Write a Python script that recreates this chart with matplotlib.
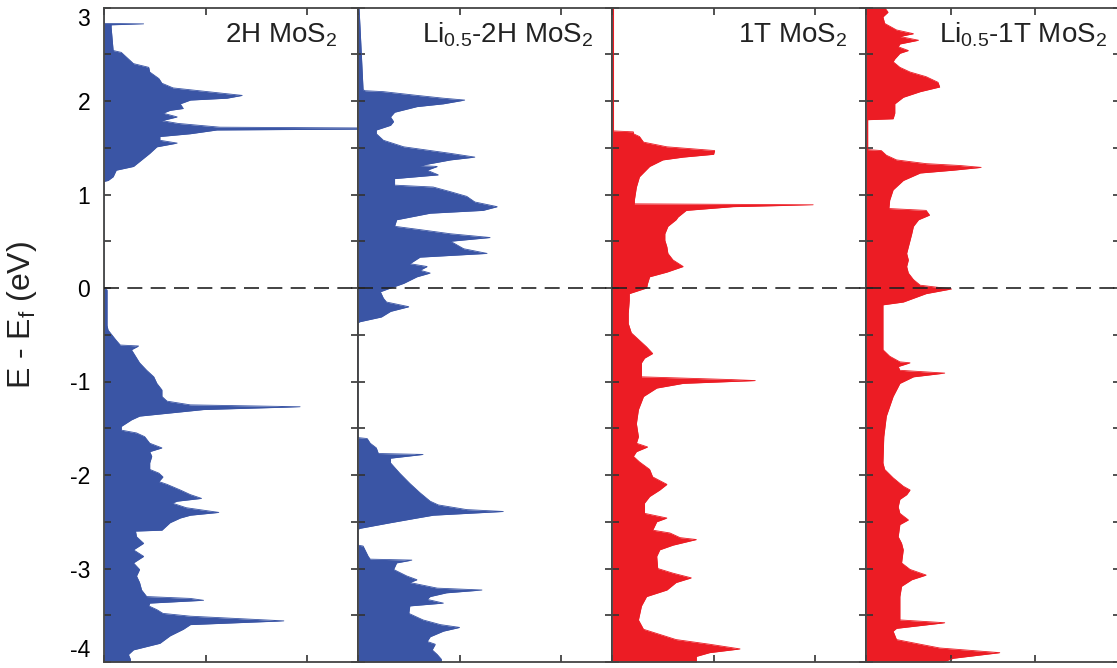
import numpy as np
import matplotlib
matplotlib.use("Agg")
import matplotlib.pyplot as plt

plt.rcParams['font.family'] = ['Liberation Sans', 'DejaVu Sans']
plt.rcParams['mathtext.default'] = 'regular'
plt.rcParams['axes.unicode_minus'] = False

# density of states, columns: E - Ef (eV), DOS (arb. units)
dos_2h = np.array([
    (3.0, 0), (2.83, 0), (2.825, 0.39), (2.815, 0.07), (2.79, 0.07), (2.54, 0.09),
    (2.52, 0.17), (2.40, 0.29), (2.36, 0.44), (2.31, 0.45), (2.24, 0.54), (2.19, 0.57),
    (2.14, 0.68), (2.12, 0.85), (2.06, 1.36), (2.03, 1.21), (2.01, 0.85), (1.97, 0.75),
    (1.92, 0.78), (1.90, 0.65), (1.87, 0.58), (1.83, 0.72), (1.79, 0.57), (1.76, 0.73),
    (1.72, 1.14), (1.706, 3.5), (1.69, 1.11), (1.65, 0.85), (1.62, 0.55), (1.58, 0.55),
    (1.55, 0.72), (1.51, 0.52), (1.44, 0.45), (1.37, 0.37), (1.30, 0.29), (1.26, 0.12),
    (1.19, 0.09), (1.15, 0.04), (1.14, 0), (0.0, 0), (-0.02, 0.03), (-0.40, 0.03),
    (-0.45, 0.04), (-0.56, 0.12), (-0.61, 0.16), (-0.62, 0.34), (-0.66, 0.27), (-0.73, 0.31),
    (-0.80, 0.35), (-0.88, 0.42), (-0.95, 0.49), (-1.02, 0.52), (-1.09, 0.57), (-1.16, 0.57),
    (-1.21, 0.62), (-1.25, 0.85), (-1.27, 1.93), (-1.30, 0.98), (-1.34, 0.62), (-1.37, 0.35),
    (-1.41, 0.27), (-1.48, 0.17), (-1.52, 0.17), (-1.55, 0.32), (-1.59, 0.40), (-1.66, 0.45),
    (-1.71, 0.57), (-1.75, 0.45), (-1.80, 0.47), (-1.87, 0.45), (-1.94, 0.45), (-1.98, 0.54),
    (-2.02, 0.58), (-2.07, 0.54), (-2.10, 0.62), (-2.16, 0.75), (-2.21, 0.85), (-2.25, 0.96),
    (-2.28, 0.72), (-2.30, 0.67), (-2.35, 0.81), (-2.40, 1.13), (-2.43, 0.85), (-2.46, 0.75),
    (-2.51, 0.65), (-2.59, 0.57), (-2.60, 0.31), (-2.66, 0.32), (-2.73, 0.39), (-2.80, 0.29),
    (-2.87, 0.39), (-2.94, 0.29), (-3.01, 0.35), (-3.08, 0.32), (-3.15, 0.35), (-3.23, 0.37),
    (-3.30, 0.42), (-3.32, 0.85), (-3.34, 0.98), (-3.37, 0.45), (-3.40, 0.44), (-3.44, 0.52),
    (-3.48, 0.58), (-3.51, 0.85), (-3.56, 1.77), (-3.60, 0.85), (-3.65, 0.78), (-3.72, 0.65),
    (-3.80, 0.55), (-3.87, 0.29), (-3.92, 0.24), (-3.97, 0.26), (-4.0, 0.26),
])

dos_li_2h = np.array([
    (3.0, 0.01), (2.79, 0.02), (2.12, 0.05), (2.11, 0.07), (2.10, 0.25), (2.06, 0.58),
    (2.03, 0.84), (2.01, 1.05), (1.97, 0.84), (1.94, 0.58), (1.88, 0.36), (1.83, 0.32),
    (1.78, 0.35), (1.74, 0.32), (1.69, 0.18), (1.65, 0.18), (1.58, 0.25), (1.51, 0.45),
    (1.44, 0.91), (1.40, 1.15), (1.37, 0.91), (1.31, 0.61), (1.30, 0.78), (1.26, 0.68),
    (1.21, 0.79), (1.17, 0.36), (1.10, 0.36), (1.08, 0.74), (1.03, 0.91), (0.98, 1.07),
    (0.92, 1.15), (0.87, 1.37), (0.83, 1.23), (0.80, 0.71), (0.73, 0.38), (0.66, 0.36),
    (0.62, 0.64), (0.58, 0.91), (0.54, 1.30), (0.50, 0.91), (0.42, 1.04), (0.37, 1.27),
    (0.33, 0.61), (0.26, 0.51), (0.23, 0.68), (0.19, 0.61), (0.16, 0.71), (0.12, 0.58),
    (0.05, 0.45), (0.0, 0.32), (-0.04, 0.22), (-0.11, 0.25), (-0.15, 0.28), (-0.20, 0.50),
    (-0.25, 0.32), (-0.31, 0.23), (-0.36, 0.02), (-0.37, 0), (-1.60, 0), (-1.61, 0.09),
    (-1.66, 0.12), (-1.71, 0.18), (-1.77, 0.20), (-1.78, 0.64), (-1.82, 0.32), (-1.87, 0.32),
    (-1.98, 0.41), (-2.09, 0.51), (-2.19, 0.61), (-2.28, 0.71), (-2.32, 0.79), (-2.37, 1.07),
    (-2.39, 1.43), (-2.43, 0.74), (-2.46, 0.58), (-2.51, 0.32), (-2.57, 0.02), (-2.58, 0),
    (-2.75, 0), (-2.76, 0.05), (-2.87, 0.10), (-2.90, 0.12), (-2.91, 0.53), (-2.94, 0.38),
    (-3.01, 0.35), (-3.08, 0.48), (-3.12, 0.58), (-3.15, 0.51), (-3.21, 0.78), (-3.23, 1.22),
    (-3.26, 0.87), (-3.30, 0.71), (-3.33, 0.68), (-3.37, 0.84), (-3.40, 0.51), (-3.48, 0.50),
    (-3.55, 0.64), (-3.60, 0.81), (-3.63, 1.00), (-3.67, 0.84), (-3.73, 0.71), (-3.78, 0.68),
    (-3.81, 0.76), (-3.87, 0.73), (-3.92, 0.78), (-3.97, 0.82), (-4.0, 0.82),
])

dos_1t = np.array([
    (3.0, 0.015), (1.68, 0.015), (1.67, 0.21), (1.65, 0.21), (1.62, 0.27), (1.56, 0.31),
    (1.51, 0.54), (1.47, 1.01), (1.43, 1.00), (1.40, 0.70), (1.37, 0.50), (1.30, 0.37),
    (1.19, 0.27), (1.08, 0.24), (0.94, 0.22), (0.90, 0.22), (0.89, 1.98), (0.87, 1.19),
    (0.83, 0.73), (0.76, 0.65), (0.73, 0.63), (0.66, 0.55), (0.58, 0.52), (0.51, 0.52),
    (0.44, 0.54), (0.37, 0.55), (0.30, 0.60), (0.23, 0.70), (0.17, 0.54), (0.12, 0.37),
    (0.05, 0.35), (0.0, 0.34), (-0.06, 0.17), (-0.13, 0.17), (-0.27, 0.16), (-0.38, 0.16),
    (-0.48, 0.19), (-0.56, 0.27), (-0.63, 0.34), (-0.70, 0.40), (-0.75, 0.32), (-0.80, 0.29),
    (-0.95, 0.29), (-0.98, 1.19), (-0.99, 1.41), (-1.02, 0.70), (-1.07, 0.44), (-1.16, 0.31),
    (-1.30, 0.26), (-1.45, 0.24), (-1.59, 0.26), (-1.66, 0.24), (-1.70, 0.35), (-1.75, 0.24),
    (-1.80, 0.21), (-1.86, 0.27), (-1.94, 0.37), (-2.02, 0.40), (-2.10, 0.54), (-2.16, 0.47),
    (-2.23, 0.37), (-2.30, 0.32), (-2.41, 0.32), (-2.46, 0.54), (-2.50, 0.44), (-2.59, 0.40),
    (-2.62, 0.57), (-2.67, 0.67), (-2.69, 0.83), (-2.75, 0.60), (-2.80, 0.47), (-2.87, 0.44),
    (-3.00, 0.45), (-3.05, 0.60), (-3.10, 0.78), (-3.15, 0.63), (-3.23, 0.54), (-3.30, 0.34),
    (-3.40, 0.29), (-3.55, 0.26), (-3.65, 0.31), (-3.76, 0.63), (-3.81, 0.96), (-3.86, 1.26),
    (-3.90, 0.96), (-3.94, 0.83), (-3.99, 0.83), (-4.0, 0.83),
])

dos_li_1t = np.array([
    (3.0, 0.22), (2.95, 0.26), (2.90, 0.20), (2.83, 0.22), (2.76, 0.36), (2.72, 0.56),
    (2.69, 0.40), (2.65, 0.62), (2.61, 0.40), (2.58, 0.38), (2.54, 0.50), (2.51, 0.40),
    (2.45, 0.34), (2.42, 0.32), (2.36, 0.40), (2.31, 0.52), (2.26, 0.71), (2.20, 0.85),
    (2.15, 0.87), (2.10, 0.64), (2.04, 0.44), (1.97, 0.34), (1.87, 0.34), (1.81, 0.32),
    (1.80, 0.02), (1.48, 0.02), (1.47, 0.18), (1.42, 0.24), (1.37, 0.36), (1.33, 0.71),
    (1.31, 1.11), (1.29, 1.36), (1.26, 1.03), (1.23, 0.64), (1.15, 0.44), (1.05, 0.32),
    (0.94, 0.28), (0.85, 0.27), (0.83, 0.71), (0.78, 0.75), (0.73, 0.62), (0.66, 0.56),
    (0.58, 0.54), (0.51, 0.52), (0.44, 0.50), (0.37, 0.48), (0.30, 0.50), (0.23, 0.48),
    (0.16, 0.50), (0.09, 0.56), (0.03, 0.64), (-0.01, 1.01), (-0.06, 0.71), (-0.11, 0.56),
    (-0.15, 0.44), (-0.18, 0.20), (-0.27, 0.20), (-0.48, 0.20), (-0.66, 0.20), (-0.73, 0.28),
    (-0.79, 0.40), (-0.80, 0.52), (-0.84, 0.38), (-0.88, 0.40), (-0.91, 0.93), (-0.95, 0.56),
    (-1.02, 0.40), (-1.16, 0.32), (-1.37, 0.24), (-1.59, 0.21), (-1.87, 0.20), (-1.94, 0.22),
    (-2.03, 0.32), (-2.12, 0.44), (-2.16, 0.52), (-2.21, 0.48), (-2.26, 0.40), (-2.34, 0.38),
    (-2.41, 0.40), (-2.48, 0.50), (-2.53, 0.40), (-2.66, 0.38), (-2.73, 0.42), (-2.80, 0.44),
    (-2.94, 0.42), (-3.01, 0.52), (-3.07, 0.71), (-3.12, 0.54), (-3.19, 0.42), (-3.30, 0.40),
    (-3.55, 0.40), (-3.58, 0.93), (-3.64, 0.36), (-3.67, 0.32), (-3.76, 0.36), (-3.81, 0.64),
    (-3.85, 0.87), (-3.90, 1.58), (-3.96, 1.03), (-4.0, 0.91),
])

titles = ['2H MoS$_2$', 'Li$_{0.5}$-2H MoS$_2$', '1T MoS$_2$', 'Li$_{0.5}$-1T MoS$_2$']
blue = '#3a55a5'
red = '#ec1c24'
panels = [dos_2h, dos_li_2h, dos_1t, dos_li_1t]
colors = [blue, blue, red, red]
xmax = [2.5, 2.5, 2.5, 3.0]
title_x = [0.917, 0.925, 0.925, 0.949]

fig = plt.figure(figsize=(11.17, 6.68), dpi=100)
gs = fig.add_gridspec(1, 4, left=104 / 1117, right=1120 / 1117,
                      bottom=1 - 662 / 668, top=1 - 7.5 / 668, wspace=0)

for i in range(4):
    ax = fig.add_subplot(gs[0, i])
    data = panels[i]
    ax.fill_betweenx(data[:, 0], 0, data[:, 1], color=colors[i], lw=0)
    ax.plot(data[:, 1], data[:, 0], color=colors[i], lw=0.6)
    ax.axhline(0, color='#222222', lw=1.2, ls=(0, (9, 5)), zorder=5)
    ax.set_xlim(0, xmax[i])
    ax.set_ylim(-4, 3)
    ax.set_xticks([0, 1, 2])
    ax.set_xticklabels([])
    ax.set_yticks(range(-4, 4))
    ax.set_yticks(np.arange(-3.5, 3, 1.0), minor=True)
    ax.tick_params(which='both', direction='in', top=True, right=True,
                   length=5, width=1.2, color='#333333')
    ax.tick_params(axis='y', labelsize=16.5, pad=10)
    if i > 0:
        ax.set_yticklabels([])
    else:
        # keep the end labels inside the picture
        labels = ax.get_yticklabels()
        labels[0].set_va('bottom')
        labels[-1].set_va('top')
    for sp in ax.spines.values():
        sp.set_color('#444444')
        sp.set_linewidth(1.3)
    ax.text(title_x[i], 0.946, titles[i], transform=ax.transAxes,
            ha='right', va='baseline', fontsize=20, color='#222222')

fig.text(22 / 1117, 1 - 315 / 668, 'E - E$_f$ (eV)', rotation=90,
         ha='center', va='center', fontsize=23, color='#222222')

fig.savefig('out.png', dpi=100)
